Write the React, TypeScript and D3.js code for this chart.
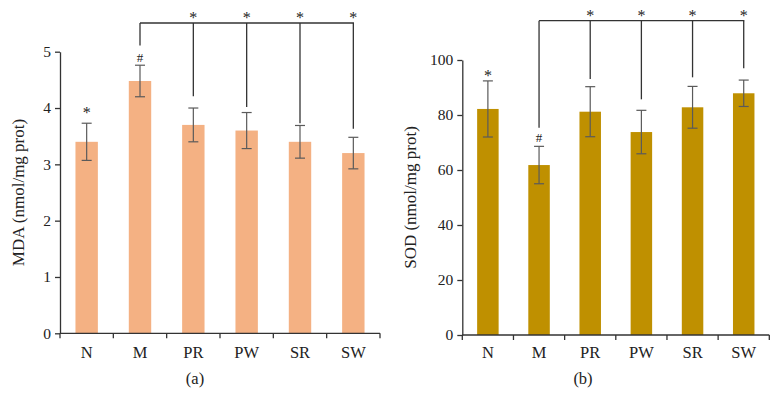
import React, { useEffect, useRef } from "react";
import * as d3 from "d3";

const categories = ["N", "M", "PR", "PW", "SR", "SW"];

const mdaValues = [3.4, 4.48, 3.7, 3.6, 3.4, 3.2];
const mdaErrors = [0.33, 0.28, 0.3, 0.32, 0.29, 0.28];
const mdaTicks = [0, 1, 2, 3, 4, 5];
// bracket: level of horizontal line, end of M drop, ends of compared drops
const mdaBracketLevel = 5.51;
const mdaBracketFromEnd = 5.11;
const mdaBracketTargets = ["PR", "PW", "SR", "SW"];
const mdaBracketEnds = [4.21, 4.02, 3.73, 3.63];
const mdaMarks = [
  { cat: "N", sym: "*" },
  { cat: "M", sym: "#" },
];

const sodValues = [82.2, 61.8, 81.2, 73.8, 82.8, 87.9];
const sodErrors = [10.2, 6.8, 9.1, 7.9, 7.6, 4.8];
const sodTicks = [0, 20, 40, 60, 80, 100];
const sodBracketLevel = 114.3;
const sodBracketFromEnd = 75.4;
const sodBracketTargets = ["PR", "PW", "SR", "SW"];
const sodBracketEnds = [93.1, 85.7, 93.7, 97.0];
const sodMarks = [
  { cat: "N", sym: "*" },
  { cat: "M", sym: "#" },
];

const FONT = "'Liberation Serif', 'Times New Roman', serif";

interface PanelCfg {
  values: number[];
  errors: number[];
  ticks: number[];
  yMax: number;
  level: number;
  fromEnd: number;
  targets: string[];
  ends: number[];
  marks: { cat: string; sym: string }[];
  markOffsets: number[];
  color: string;
  title: string;
  caption: string;
  captionX: number;
  x0: number;
  x1: number;
  yTop: number;
  yBottom: number;
  titleX: number;
}

const panels: PanelCfg[] = [
  {
    values: mdaValues,
    errors: mdaErrors,
    ticks: mdaTicks,
    yMax: 5,
    level: mdaBracketLevel,
    fromEnd: mdaBracketFromEnd,
    targets: mdaBracketTargets,
    ends: mdaBracketEnds,
    marks: mdaMarks,
    markOffsets: [7.5, 3.5],
    color: "#F4B183",
    title: "MDA (nmol/mg prot)",
    caption: "(a)",
    captionX: 195,
    x0: 60,
    x1: 380,
    yTop: 51.7,
    yBottom: 333.3,
    titleX: 23.5,
  },
  {
    values: sodValues,
    errors: sodErrors,
    ticks: sodTicks,
    yMax: 100,
    level: sodBracketLevel,
    fromEnd: sodBracketFromEnd,
    targets: sodBracketTargets,
    ends: sodBracketEnds,
    marks: sodMarks,
    markOffsets: [1.5, 4.5],
    color: "#BF9000",
    title: "SOD (nmol/mg prot)",
    caption: "(b)",
    captionX: 583,
    x0: 462.3,
    x1: 769.3,
    yTop: 60,
    yBottom: 335,
    titleX: 415.5,
  },
];

export default function App() {
  const ref = useRef<SVGSVGElement | null>(null);

  useEffect(() => {
    const svg = d3.select(ref.current);
    svg.selectAll("*").remove();

    panels.forEach((p) => {
      const g = svg.append("g");
      const x = d3
        .scaleBand<string>()
        .domain(categories)
        .range([p.x0, p.x1])
        .paddingInner(0.58)
        .paddingOuter(0.29);
      const y = d3.scaleLinear().domain([0, p.yMax]).range([p.yBottom, p.yTop]);
      const cx = (c: string) => (x(c) as number) + x.bandwidth() / 2;
      const step = x.step();

      // bars
      g.selectAll("rect.bar")
        .data(categories)
        .enter()
        .append("rect")
        .attr("x", (c) => x(c) as number)
        .attr("y", (c, i) => y(p.values[i]))
        .attr("width", x.bandwidth())
        .attr("height", (c, i) => y(0) - y(p.values[i]))
        .attr("fill", p.color);

      // error bars
      const eg = g.append("g").attr("stroke", "#5a5a5a").attr("stroke-width", 1.2);
      categories.forEach((c, i) => {
        const hi = y(p.values[i] + p.errors[i]);
        const lo = y(p.values[i] - p.errors[i]);
        const xc = cx(c);
        eg.append("line").attr("x1", xc).attr("x2", xc).attr("y1", hi).attr("y2", lo);
        eg.append("line").attr("x1", xc - 5).attr("x2", xc + 5).attr("y1", hi).attr("y2", hi);
        eg.append("line").attr("x1", xc - 5).attr("x2", xc + 5).attr("y1", lo).attr("y2", lo);
      });

      // y axis
      const yAxis = d3
        .axisLeft(y)
        .tickValues(p.ticks)
        .tickSize(5)
        .tickSizeOuter(0)
        .tickPadding(4)
        .tickFormat(d3.format("d") as any);
      const ya = g.append("g").attr("transform", `translate(${p.x0},0)`).call(yAxis as any);
      ya.select(".domain").attr("stroke", "#333").attr("stroke-width", 1.3);
      ya.selectAll(".tick line").attr("stroke", "#333").attr("stroke-width", 1.3);
      ya.selectAll(".tick text")
        .attr("font-family", FONT)
        .attr("font-size", 15.5)
        .attr("fill", "#222");

      // x axis
      const xa = g.append("g");
      xa.append("line")
        .attr("x1", p.x0)
        .attr("x2", p.x1)
        .attr("y1", y(0))
        .attr("y2", y(0))
        .attr("stroke", "#333")
        .attr("stroke-width", 1.3);
      d3.range(categories.length + 1).forEach((k) => {
        const tx = p.x0 + k * step;
        xa.append("line")
          .attr("x1", tx)
          .attr("x2", tx)
          .attr("y1", y(0))
          .attr("y2", y(0) + 5)
          .attr("stroke", "#333")
          .attr("stroke-width", 1.3);
      });
      xa.selectAll("text")
        .data(categories)
        .enter()
        .append("text")
        .attr("x", (c) => cx(c))
        .attr("y", 357.5)
        .attr("text-anchor", "middle")
        .attr("font-family", FONT)
        .attr("font-size", 16.5)
        .attr("fill", "#222")
        .text((c) => c);

      // y title
      g.append("text")
        .attr("transform", `translate(${p.titleX},${(p.yTop + p.yBottom) / 2}) rotate(-90)`)
        .attr("text-anchor", "middle")
        .attr("font-family", FONT)
        .attr("font-size", 17)
        .attr("fill", "#222")
        .text(p.title);

      // caption
      g.append("text")
        .attr("x", p.captionX)
        .attr("y", 384)
        .attr("text-anchor", "middle")
        .attr("font-family", FONT)
        .attr("font-size", 16.5)
        .attr("fill", "#222")
        .text(p.caption);

      // significance marks
      const sg = g.append("g").attr("opacity", 0.99);
      p.marks.forEach((m, k) => {
        const i = categories.indexOf(m.cat);
        const top = y(p.values[i] + p.errors[i]);
        sg.append("text")
          .attr("x", cx(m.cat))
          .attr("y", top - p.markOffsets[k] + (m.sym === "*" ? 2 : 0))
          .attr("text-anchor", "middle")
          .attr("font-family", FONT)
          .attr("font-size", m.sym === "*" ? 16 : 13)
          .attr("fill", "#222")
          .text(m.sym);
      });

      // bracket
      const bg = g.append("g").attr("stroke", "#333").attr("stroke-width", 1.3).attr("fill", "none");
      const lvl = y(p.level);
      const mx = cx("M");
      const lastX = cx(p.targets[p.targets.length - 1]);
      bg.append("line").attr("x1", mx).attr("x2", lastX + 0.65).attr("y1", lvl).attr("y2", lvl);
      bg.append("line").attr("x1", mx).attr("x2", mx).attr("y1", lvl).attr("y2", y(p.fromEnd));
      p.targets.forEach((t, k) => {
        bg.append("line")
          .attr("x1", cx(t))
          .attr("x2", cx(t))
          .attr("y1", lvl)
          .attr("y2", y(p.ends[k]));
        sg.append("text")
          .attr("x", cx(t))
          .attr("y", lvl + 0.5)
          .attr("text-anchor", "middle")
          .attr("font-family", FONT)
          .attr("font-size", 16)
          .attr("fill", "#222")
          .text("*");
      });
    });
  }, []);

  return (
    <div style={{ position: "absolute", left: 0, top: 0 }}>
      <svg ref={ref} width={780} height={412} style={{ display: "block", background: "#fff" }} />
    </div>
  );
}
